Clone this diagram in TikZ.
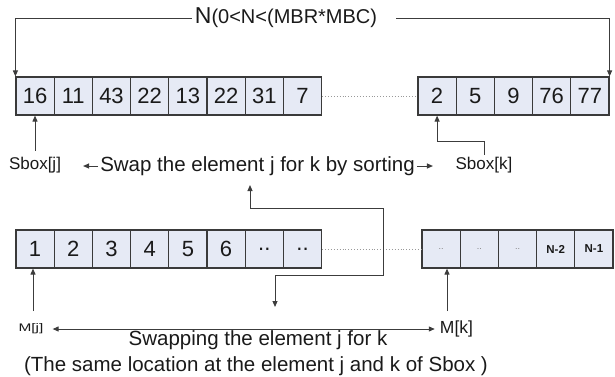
\documentclass[tikz,border=0pt]{standalone}
\usepackage{fontspec}
\setmainfont{Liberation Sans}
\usetikzlibrary{arrows.meta}
\definecolor{cellfill}{HTML}{E6EAF5}
\definecolor{cellline}{HTML}{3A3A3A}
\definecolor{txt}{HTML}{1A1A1A}
\definecolor{wire}{HTML}{3C3C3C}
\newcommand{\fsz}[1]{\fontsize{#1}{#1}\selectfont}
\tikzset{
  ah/.tip={Triangle[length=6pt,width=5pt]},
  cell/.style={draw=cellline, fill=cellfill, line width=1.2pt,
    minimum width=38.2pt, minimum height=38pt, inner sep=0pt,
    font=\fsz{22}, text=txt},
  smallcell/.style={cell, font=\fsz{9}, text=gray},
  ncell/.style={cell, font=\bfseries\fsz{11.5}},
  conn/.style={draw=wire, line width=1pt},
  dotline/.style={draw=gray!80, line width=0.9pt, dotted},
  lbl/.style={inner sep=0pt, text=txt}
}
\begin{document}
\begin{tikzpicture}[x=1pt,y=-1pt]
\useasboundingbox (0,0) rectangle (615,376);

% upper array (Sbox)
\foreach \v [count=\i] in {16,11,43,22,13,22,31,7}
  \node[cell] (t\i) at ({16+38.2*(\i-0.5)},96) {\v};
\foreach \v [count=\i from 9] in {2,5,9,76,77}
  \node[cell] (t\i) at ({418+38.2*(\i-8.5)},96) {\v};
\draw[dotline] (t8.east) -- (t9.west);

% lower array (M)
\foreach \v [count=\i] in {1,2,3,4,5,6}
  \node[cell] (b\i) at ({16+38.2*(\i-0.5)},249) {\v};
\node[cell] (b7) at ({16+38.2*6.5},249) {..};
\node[cell] (b8) at ({16+38.2*7.5},249) {..};
\foreach \i in {9,10,11}
  \node[smallcell] (b\i) at ({422+38.2*(\i-8.5)},249) {..};
\node[ncell] (b12) at ({422+38.2*3.5},249) {N-2};
\node[ncell] (b13) at ({422+38.2*4.5},249) {N-1};
\draw[dotline] (b8.east) -- (b9.west);

% size of the array
\node[lbl] (nlab) at (286,18) {{\fsz{23}N}{\fsz{20}(0<N<(MBR*MBC)}};
\draw[conn,-ah] ([xshift=-3pt]nlab.west) -| (t1.north west);
\draw[conn,-ah] ([xshift=19pt]nlab.east) -| (t13.north east);

% sorting swap on Sbox
\node[lbl, font=\fsz{17}] (sj) at (35,165) {Sbox[j]};
\node[lbl, font=\fsz{17}] (sk) at (484,165) {Sbox[k]};
\node[lbl, font=\fsz{20.5}] (swap) at (257.5,166) {Swap the element j for k by sorting};
\draw[conn,-ah,shorten <=6pt] (sj.north) -- (sj.north |- t1.south);
\draw[conn,-ah] ([yshift=2pt]sk.north) -- (484,141) -| (t9.south);
\draw[conn,-ah] ([xshift=-2pt]swap.west) -- ++(-15,0);
\draw[conn,-ah] ([xshift=2pt]swap.east) -- ++(16,0);

% link between the two swaps
\coordinate (ua) at (250,185);
\coordinate (da) at (275,307);
\draw[conn,ah-ah] (ua) -- (250,208) -- (383,208) -- (383,275) -- (275,275) -- (da);

% swap on M
\node[lbl] (mj) at (31,329) {\fsz{11}\scalebox{1.4}[1]{M[j]}};
\node[lbl, font=\fsz{17.5}] (mk) at (456.5,329) {M[k]};
\coordinate (mjs) at (33,311);
\coordinate (mks) at (447,311);
\draw[conn,-ah] (mjs) -- (mjs |- b1.south);
\draw[conn,-ah] (mks) -- (mks |- b9.south);
\draw[conn,ah-ah,shorten <=9pt,shorten >=5pt] (mj.east) -- (mk.west);
\node[lbl, font=\fsz{20.5}] (l1) at (258,340) {Swapping the element j for k};
\node[lbl, font=\fsz{20.5}] (l2) at (256,366) {(The same location at the element j and k of Sbox )};
\end{tikzpicture}
\end{document}
